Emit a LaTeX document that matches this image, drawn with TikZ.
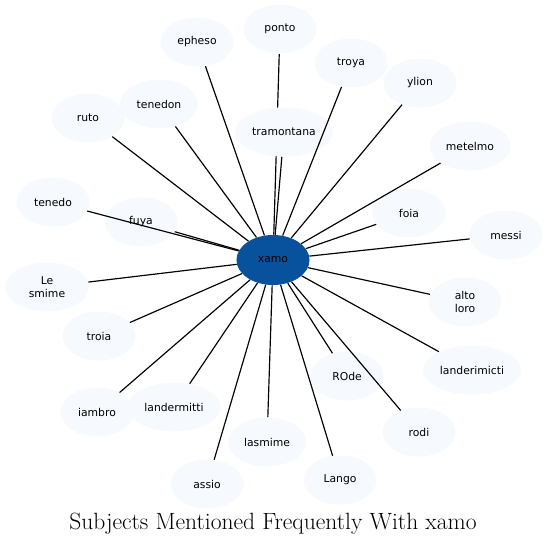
\documentclass[tikz,border=0pt]{standalone}
\usepackage{fontspec}
\newfontfamily\labelfont{DejaVu Sans}
\definecolor{hubblue}{HTML}{08519C}
\definecolor{paleblue}{HTML}{F6FAFF}
\usepackage{tikz}
\usetikzlibrary{
    shapes.geometric,
    backgrounds
}
\tikzstyle{topic} = [
    ellipse,
    fill=paleblue,
    minimum width=0.73in,
    minimum height=0.49in,
    inner sep=0pt,
    align=center,
    font=\labelfont\fontsize{7.8}{9}\selectfont
]
\tikzstyle{hub} = [
    topic,
    fill=hubblue,
    minimum height=0.5in
]
\tikzstyle{link} = [
    draw=black,
    line width=0.85pt
]

\begin{document}
\begin{tikzpicture}[x=0.01in, y=-0.01in]
        \useasboundingbox (0,0) rectangle (547,546);

        % Centre
        \node[hub] (xamo) at (273,260) {xamo};

        % Upper topics
        \node[topic] (epheso) at (197,42) {epheso};
        \node[topic] (ponto) at (280,29) {ponto};
        \node[topic] (troya) at (351,63) {troya};
        \node[topic] (ylion) at (420,83) {ylion};
        \node[topic, minimum width=0.78in] (tenedon) at (159,104) {tenedon};
        \node[topic] (ruto) at (88,118) {ruto};
        \node[topic, minimum width=0.98in] (tramontana) at (284,132) {tramontana};
        \node[topic, minimum width=0.81in] (metelmo) at (470,146) {metelmo};

        % Middle topics
        \node[topic] (tenedo) at (53,202) {tenedo};
        \node[topic] (fuya) at (141,222) {fuya};
        \node[topic] (foia) at (409,213) {foia};
        \node[topic] (messi) at (506,235) {messi};
        \node[topic, minimum width=0.84in] (lesmime) at (47,287) {Le\\smime};
        \node[topic] (altoloro) at (465,302) {alto\\loro};

        % Lower topics
        \node[topic] (troia) at (99,336) {troia};
        \node[topic] (rode) at (347,376) {ROde};
        \node[topic, minimum width=0.98in] (landerimicti) at (472,370) {landerimicti};
        \node[topic] (iambro) at (97,412) {iambro};
        \node[topic, minimum width=0.93in] (landermitti) at (174,407) {landermitti};
        \node[topic] (rodi) at (419,432) {rodi};
        \node[topic, minimum width=0.78in] (lasmime) at (267,442) {lasmime};
        \node[topic] (assio) at (207,484) {assio};
        \node[topic] (lango) at (340,480) {Lango};

        % Edges (ponto runs under tramontana)
        \begin{scope}[on background layer]
            \draw[link] (xamo) -- (ponto);
        \end{scope}
        \foreach \t in {epheso,troya,ylion,tenedon,ruto,tramontana,metelmo,
            tenedo,fuya,foia,messi,lesmime,altoloro,troia,rode,landerimicti,
            iambro,landermitti,rodi,lasmime,assio,lango}
            \draw[link] (xamo) -- (\t);

        % Title
        \node (title) at (273,524) {\fontsize{17}{20}\selectfont Subjects Mentioned Frequently With xamo};
    \end{tikzpicture}
\end{document}
